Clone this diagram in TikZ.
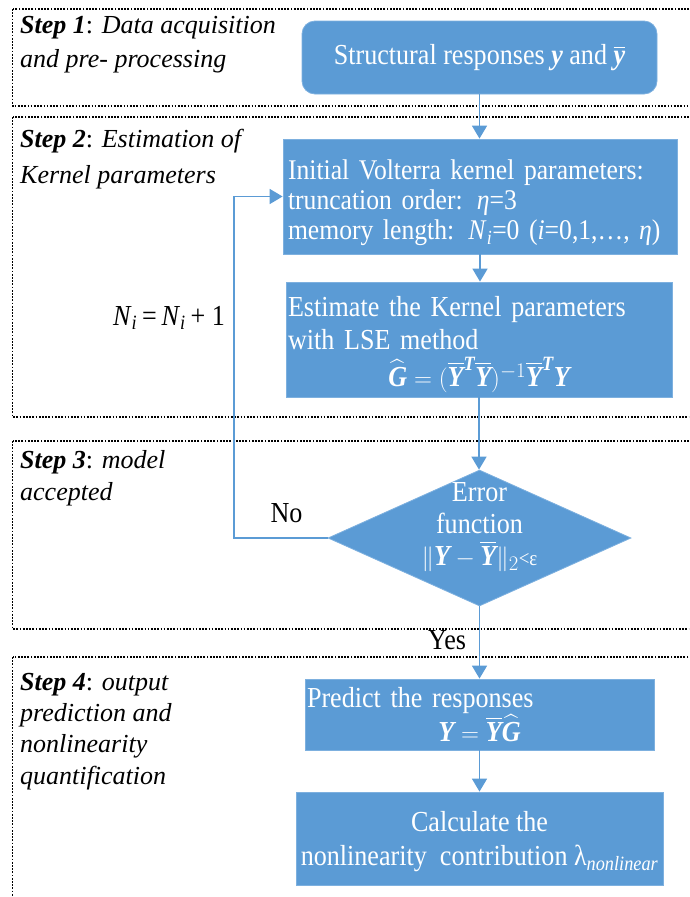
\documentclass[tikz,border=0pt]{standalone}
\usepackage{amsmath}
\usepackage{fontspec}
\setmainfont{Liberation Serif}
\newfontfamily\boxfont{Liberation Serif}[FakeStretch=0.9]
\usetikzlibrary{shapes.geometric,arrows.meta}
\definecolor{boxblue}{HTML}{5B9BD5}
\definecolor{boxedge}{HTML}{7DB0DF}
\newcommand{\bi}[1]{\text{\bfseries\itshape #1}}
\newcommand{\olbi}[1]{\overline{\bi{#1}}}
\newcommand{\mainsz}{\fontsize{26}{30}\selectfont}
\newcommand{\boxsz}{\boxfont\fontsize{29}{30}\selectfont}
\begin{document}
\begin{tikzpicture}[x=1pt,y=-1pt,
  frame/.style={draw=black, line width=1.7pt, dash pattern=on 1.7pt off 1.5pt},
  box/.style={rectangle, fill=boxblue, draw=boxedge, line width=0.8pt, text=white, font=\boxsz, inner sep=0pt},
  dia/.style={diamond, fill=boxblue, draw=boxedge, line width=0.8pt, minimum width=303pt, minimum height=136pt, inner sep=0pt},
  conn/.style={draw=boxblue, line width=1.7pt, -{Triangle[width=15pt,length=13pt]}},
  steptxt/.style={anchor=base west, inner sep=0pt, font=\mainsz},
  lbl/.style={anchor=base, inner sep=0pt, font=\boxsz}]
\useasboundingbox (0,0) rectangle (689,897);
\clip (0,0) rectangle (689,897);
% dotted step frames
\draw[frame] (12.5,9) rectangle (705,106);
\draw[frame] (12.5,117) rectangle (705,417);
\draw[frame] (12.5,441) rectangle (705,629);
\draw[frame] (12.5,657) rectangle (705,920);
% step labels
\node[steptxt] (s1a) at (20,33) {\textbf{\textit{Step 1}}: \textit{Data acquisition}};
\node[steptxt] (s1b) at (20,67) {\textit{and pre- processing}};
\node[steptxt] (s2a) at (20,147) {\textbf{\textit{Step 2}}: \textit{Estimation of}};
\node[steptxt] (s2b) at (20,183) {\textit{Kernel parameters}};
\node[steptxt] (s3a) at (20,468) {\textbf{\textit{Step 3}}: \textit{model}};
\node[steptxt] (s3b) at (20,500) {\textit{accepted}};
\node[steptxt] (s4a) at (20,690) {\textbf{\textit{Step 4}}: \textit{output}};
\node[steptxt] (s4b) at (20,721) {\textit{prediction and}};
\node[steptxt] (s4c) at (20,752) {\textit{nonlinearity}};
\node[steptxt] (s4d) at (20,784) {\textit{quantification}};
% boxes
\node[box, rounded corners=13pt, minimum width=355pt, minimum height=73pt] (b0) at (479.5,57.5)
  {Structural responses \bi{y} and $\olbi{y}$};
\node[box, font={\boxfont\fontsize{28.5}{30}\selectfont}, minimum width=394pt, minimum height=115pt,
      text width=384pt, align=left, inner xsep=5pt] (b1) at (480,196.5)
  {\rule{0pt}{33pt}Initial Volterra kernel parameters:\\
   truncation order: \textit{η}=3\\
   memory length: \textit{N}$_{\text{\itshape i}}$=0 (\textit{i}=0,1,…, \textit{η})};
\node[box, font={\boxfont\fontsize{29}{33}\selectfont}, minimum width=386pt, minimum height=115pt,
      text width=382pt, align=left, inner xsep=2pt] (b2) at (479,339.5)
  {\rule{0pt}{30pt}Estimate the Kernel parameters\\
   with LSE method\\[4pt]
   \makebox[\hsize]{$\widehat{\bi{G}}=(\olbi{Y}^{\bi{T}}\olbi{Y})^{-1}\olbi{Y}^{\bi{T}}\bi{Y}$}};
\node[dia] (d) at (479.5,538) {};
\node[lbl, font={\boxfont\fontsize{29}{32}\selectfont}, anchor=center, align=center, text=white] (dt) at (479.5,527)
  {Error\\function\\$\|\bi{Y}-\olbi{Y}\|_2${\fontsize{21}{21}\selectfont<ε}};
\node[box, font={\boxfont\fontsize{29}{33}\selectfont}, minimum width=349pt, minimum height=71pt,
      text width=345pt, align=left, inner xsep=2pt] (b3) at (479.5,714.5)
  {Predict the responses\\[1pt]
   \makebox[\hsize]{$\bi{Y}=\olbi{Y}\widehat{\bi{G}}$}};
\node[box, font={\boxfont\fontsize{29}{34}\selectfont}, minimum width=367pt, minimum height=93pt, align=center] (b4) at (479.5,838.5)
  {\rule{0pt}{26pt}Calculate the\\
   nonlinearity\ \ contribution λ$_{\text{\itshape nonlinear}}$};
% labels
\node[lbl] (yes) at (447,649) {Yes};
\node[lbl] (no) at (286.5,522) {No};
\node[lbl] (ni) at (169,325) {\textit{N}$_{\text{\itshape i}}$\,=\,\textit{N}$_{\text{\itshape i}}$\,+ 1};
% connectors
\coordinate (fb) at (234,0);
\draw[conn] (b0.south) -- (b0.south |- b1.north);
\draw[conn] (b1.south) -- (b1.south |- b2.north);
\draw[conn] (b2.south) -- (b2.south |- d.north);
\draw[conn] (d.south) -- (d.south |- b3.north);
\draw[conn] (b3.south) -- (b3.south |- b4.north);
\draw[conn] (d.west) -- (d.west -| fb) |- (b1.west);
\end{tikzpicture}
\end{document}
